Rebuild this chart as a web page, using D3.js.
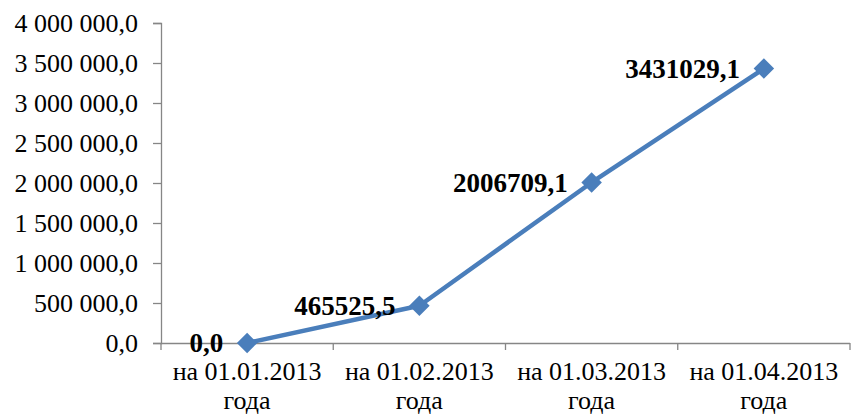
<!DOCTYPE html>
<html><head><meta charset="utf-8">
<script src="https://cdn.jsdelivr.net/npm/d3@7"></script>
<style>body{margin:0;background:#fff}svg{display:block}</style>
</head><body>
<svg id="c" width="853" height="417"></svg>
<script>
const categories = ["на 01.01.2013 года","на 01.02.2013 года","на 01.03.2013 года","на 01.04.2013 года"];
const values = [0, 465525.5, 2006709.1, 3431029.1];
const valueLabels = ["0,0","465525,5","2006709,1","3431029,1"];
const yTicks = [0,500000,1000000,1500000,2000000,2500000,3000000,3500000,4000000];

(function(){
const svg = d3.select("#c");
const mLeft = 161, mRight = 850, mTop = 23, mBottom = 343;
const x = d3.scaleBand().domain(categories).range([mLeft, mRight]);
const y = d3.scaleLinear().domain([0, 4000000]).range([mBottom, mTop]);
const font = "'Liberation Serif','Times New Roman',serif";
const axisColor = "#868686";

const fmt = v => d3.format(",.1f")(v).replace(/,/g, " ").replace(".", ",");

const ya = svg.append("g").attr("transform", `translate(${mLeft},0)`)
  .call(d3.axisLeft(y).tickValues(yTicks).tickSize(8).tickPadding(15).tickFormat(fmt));
ya.select(".domain").attr("stroke", axisColor).attr("stroke-width", 1.3);
ya.selectAll(".tick line").attr("stroke", axisColor).attr("stroke-width", 1.3);
ya.selectAll("text").attr("font-family", font).attr("font-size", 26).attr("fill", "#000");

const xa = svg.append("g").attr("transform", `translate(0,${mBottom})`)
  .call(d3.axisBottom(x).tickSize(0).tickFormat(""));
xa.select(".domain").attr("stroke", axisColor).attr("stroke-width", 1.3).attr("d", `M${mLeft},0.5H${mRight}`);
xa.selectAll(".tick").remove();
const bounds = categories.map(c => x(c)).concat([x(categories[categories.length-1]) + x.bandwidth()]);
xa.selectAll(".bt").data(bounds).enter().append("line")
  .attr("x1", d => d).attr("x2", d => d).attr("y1", 0).attr("y2", 7)
  .attr("stroke", axisColor).attr("stroke-width", 1.3);
const lbl = svg.append("g");
categories.forEach(c => {
  const parts = c.split(" года");
  const t = lbl.append("text").attr("font-family", font).attr("font-size", 26)
    .attr("text-anchor", "middle").attr("fill", "#000");
  t.append("tspan").attr("x", x(c) + x.bandwidth()/2).attr("y", 380).text(parts[0]);
  t.append("tspan").attr("x", x(c) + x.bandwidth()/2).attr("y", 409).text("года");
});

const cx = c => x(c) + x.bandwidth()/2;
const line = d3.line().x((d,i) => cx(categories[i])).y(d => y(d));
svg.append("path").datum(values).attr("d", line).attr("fill", "none")
  .attr("stroke", "#4a7ebb").attr("stroke-width", 4.5).attr("stroke-linejoin", "round");

const sym = d3.symbol(d3.symbolSquare, 210);
svg.selectAll(".m").data(values).enter().append("path")
  .attr("d", sym).attr("fill", "#4a7ebb")
  .attr("transform", (d,i) => `translate(${cx(categories[i])},${y(d)}) rotate(45)`);

svg.selectAll(".vl").data(values).enter().append("text")
  .attr("x", (d,i) => cx(categories[i]) - 24).attr("y", d => y(d))
  .attr("dy", "0.35em").attr("text-anchor", "end")
  .attr("font-family", font).attr("font-size", 27).attr("font-weight", "bold")
  .text((d,i) => valueLabels[i]);
})();
</script>
</body></html>
